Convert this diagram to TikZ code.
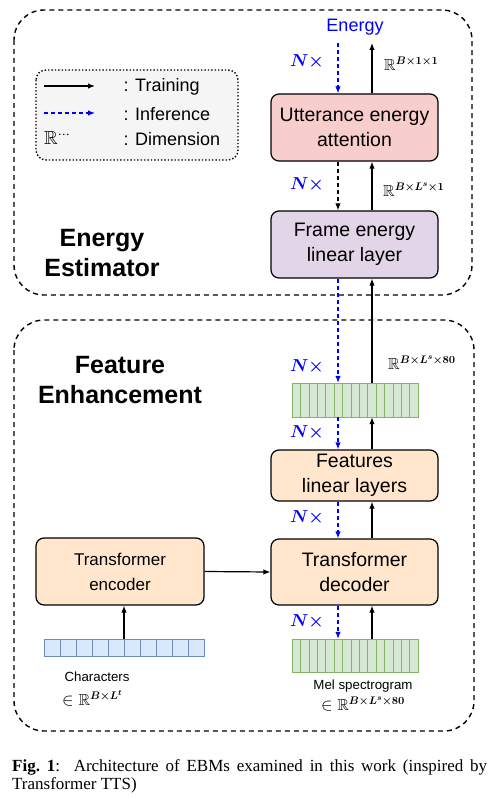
\documentclass[tikz,border=0pt]{standalone}
\usepackage{amsmath,amssymb}
\usepackage{fontspec}
\setmainfont{Liberation Sans}
\newfontfamily\capfont{Liberation Serif}
\usetikzlibrary{arrows.meta}
\definecolor{attfill}{HTML}{F8CECC}
\definecolor{frmfill}{HTML}{E1D5E7}
\definecolor{orgfill}{HTML}{FFE6CC}
\definecolor{grnfill}{HTML}{D5E8D4}
\definecolor{grnline}{HTML}{82B366}
\definecolor{bluefill}{HTML}{DAE8FC}
\definecolor{blueline}{HTML}{6C8EBF}
\definecolor{legfill}{HTML}{F5F5F5}

\begin{document}
\begin{tikzpicture}[x=1pt,y=-1pt,
    blk/.style={draw,line width=1.2pt,rounded corners=8pt,minimum width=167pt,align=center,font=\fontsize{19.5}{25}\selectfont},
    grp/.style={draw,dashed,dash pattern=on 5pt off 4pt,line width=1.4pt,rounded corners=30pt},
    trn/.style={line width=1.2pt,-{Latex[length=7pt,width=5.5pt]}},
    inf/.style={trn,blue,dash pattern=on 4pt off 3pt},
    nx/.style={blue,font=\fontsize{17}{20}\selectfont},
    dim/.style={anchor=west,inner sep=0,font=\fontsize{16}{19}\selectfont},
    ttl/.style={align=center,font=\fontsize{25}{30}\selectfont\bfseries}]
      \useasboundingbox (0,0) rectangle (496,799);
      \draw[grp] (14,10) rectangle (472,295);
      \draw[grp] (14,320) rectangle (474,731);
      \draw[dotted,line width=1.4pt,fill=legfill,rounded corners=10pt] (36,70) rectangle (238,160);
      \coordinate (l1) at (44,86); \coordinate (l2) at (95,86);
      \coordinate (l3) at (44,113); \coordinate (l4) at (95,113);
      \draw[trn] (l1) -- (l2);
      \draw[inf] (l3) -- (l4);
      \node[anchor=west,inner sep=0,font=\fontsize{19}{22}\selectfont] (lr) at (44,138) {$\mathbb{R}^{\cdots}$};
      \node[anchor=west,font=\fontsize{18}{22}\selectfont] (lt) at (120,87) {: Training};
      \node[anchor=west,font=\fontsize{18}{22}\selectfont] (li) at (120,114) {: Inference};
      \node[anchor=west,font=\fontsize{18}{22}\selectfont] (ld) at (120,139) {: Dimension};
      \node[ttl] (est) at (102,253) {Energy\\Estimator};
      \node[ttl] (enh) at (120,380) {Feature\\Enhancement};
      \node[blue,font=\fontsize{18}{22}\selectfont] (en) at (355,27) {Energy};
      \node[blk,fill=attfill,minimum height=67pt] (att) at (354.5,127.5) {Utterance energy\\attention};
      \node[blk,fill=frmfill,minimum height=67pt] (frm) at (354.5,244.5) {Frame energy\\linear layer};
      \node[draw=grnline,fill=grnfill,minimum width=126pt,minimum height=34pt,inner sep=0] (fm) at (355,400) {};
      \foreach \i in {1,...,14} \draw[grnline,line width=.6pt] (292+\i*8.4,383) -- (292+\i*8.4,417);
      \node[blk,fill=orgfill,minimum height=51pt] (feat) at (354.5,475.5) {Features\\linear layers};
      \node[blk,fill=orgfill,minimum height=66pt] (dec) at (354.5,572) {Transformer\\decoder};
      \node[blk,fill=orgfill,minimum height=67pt,minimum width=168pt,font=\fontsize{17}{25}\selectfont] (enc) at (120,571.5) {Transformer\\encoder};
      \node[draw=grnline,fill=grnfill,minimum width=126pt,minimum height=33pt,inner sep=0] (mel) at (355,655.5) {};
      \foreach \i in {1,...,14} \draw[grnline,line width=.6pt] (292+\i*8.4,639) -- (292+\i*8.4,672);
      \node[draw=blueline,fill=bluefill,line width=1pt,minimum width=160pt,minimum height=17pt,inner sep=0] (chr) at (124,647.5) {};
      \foreach \i in {1,...,9} \draw[blueline,line width=1pt] (44+\i*16,639) -- (44+\i*16,656);
      \coordinate (ci) at (338,0); \coordinate (ct) at (372,0);
      \coordinate (ein) at (338,43); \coordinate (eout) at (372,43);
      \draw[inf] (ein) -- (att.north -| ci);
      \draw[trn] (att.north -| ct) -- (eout);
      \draw[trn,dash pattern=on 4pt off 3pt] (att.south -| ci) -- (frm.north -| ci);
      \draw[trn] (frm.north -| ct) -- (att.south -| ct);
      \draw[inf] (frm.south -| ci) -- (fm.north -| ci);
      \draw[trn] (fm.north -| ct) -- (frm.south -| ct);
      \draw[inf] (fm.south -| ci) -- (feat.north -| ci);
      \draw[trn] (feat.north -| ct) -- (fm.south -| ct);
      \draw[inf] (feat.south -| ci) -- (dec.north -| ci);
      \draw[trn] (dec.north -| ct) -- (feat.south -| ct);
      \draw[inf] (dec.south -| ci) -- (mel.north -| ci);
      \draw[trn] (mel.north -| ct) -- (dec.south -| ct);
      \draw[trn] (chr.north) -- (enc.south -| chr.north);
      \draw[trn] (enc.east) -- (dec.west);
      \foreach \y/\n in {62/n1,185/n2,367/n3,433/n4,518/n5,622/n6}
        \node[nx] (\n) at (307,\y) {$\boldsymbol{N\times}$};
      \node[dim] (d1) at (384,64) {$\mathbb{R}^{\boldsymbol{B\times1\times1}}$};
      \node[dim] (d2) at (383,190) {$\mathbb{R}^{\boldsymbol{B\times L^s\times1}}$};
      \node[dim] (d3) at (388,363) {$\mathbb{R}^{\boldsymbol{B\times L^s\times80}}$};
      \node[anchor=west,font=\fontsize{13.3}{16}\selectfont] (ct1) at (61,677) {Characters};
      \node[dim] (ct2) at (62,698) {$\in\mathbb{R}^{\boldsymbol{B\times L^t}}$};
      \node[font=\fontsize{13.3}{16}\selectfont] (ml1) at (363,686) {Mel spectrogram};
      \node[font=\fontsize{16}{19}\selectfont] (ml2) at (363,704) {$\in\mathbb{R}^{\boldsymbol{B\times L^s\times80}}$};
      \node[anchor=north west,inner sep=0,text width=475pt,align=justify,font=\capfont\fontsize{17}{18}\selectfont] (cap) at (12,759)
        {\textbf{Fig.~1}:\ \ Architecture of EBMs examined in this work (inspired by Transformer TTS)};
      \end{tikzpicture}
\end{document}
